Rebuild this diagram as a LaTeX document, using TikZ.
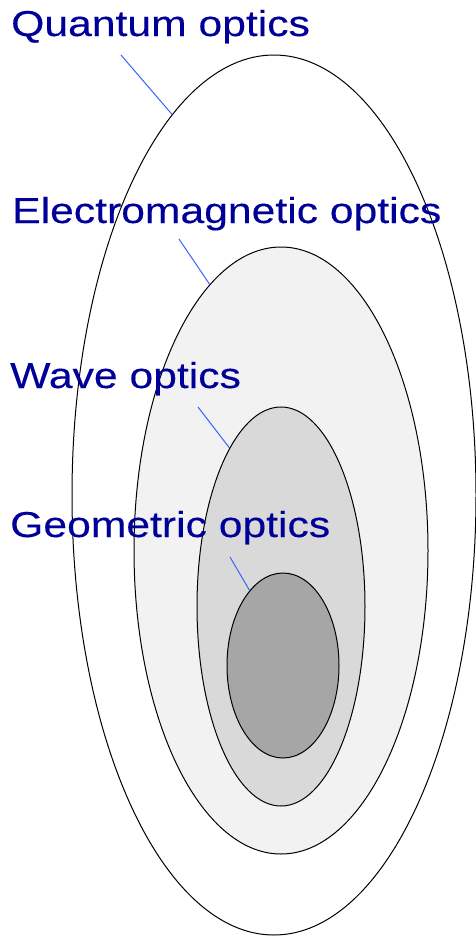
\documentclass[tikz,border=0pt]{standalone}
\usepackage{fontspec}
\newfontfamily\tagfont[FakeStretch=1.185, FakeBold=0.25]{Liberation Sans}
\usetikzlibrary{shapes.geometric}
\usetikzlibrary{positioning}
\definecolor{tagColor}{HTML}{000099}
\definecolor{leadColor}{HTML}{3366FF}
\definecolor{emColor}{HTML}{F2F2F2}
\definecolor{waveColor}{HTML}{D9D9D9}
\definecolor{geoColor}{HTML}{A6A6A6}

\begin{document}
\begin{tikzpicture}[
			x=1pt, y=-1pt,
			zone/.style={ellipse, draw=black, line width=1pt, inner sep=0pt},
			tag/.style={font=\tagfont\fontsize{36}{40}\selectfont, text=tagColor, anchor=base west, inner sep=0pt},
			lead/.style={draw=leadColor, line width=1pt},
			]
			\useasboundingbox (0,0) rectangle (476,937);
			% nested regions
			\node[zone, fill=white, minimum width=404pt, minimum height=880pt] (qo) at (274,495) {};
			\node[zone, fill=emColor, minimum width=294pt, minimum height=607pt] (em) at (281,550.5) {};
			\node[zone, fill=waveColor, minimum width=168pt, minimum height=399pt] (wo) at (281,606.5) {};
			\node[zone, fill=geoColor, minimum width=112pt, minimum height=185pt] (go) at (283,665.5) {};
			% labels
			\node[tag] (qo-lbl) at (11,36) {Quantum optics};
			\node[tag] (em-lbl) at (12,223) {Electromagnetic optics};
			\node[tag] (wo-lbl) at (10,388) {Wave optics};
			\node[tag] (go-lbl) at (10,537) {Geometric optics};
			\coordinate (qo-tip) at (121,55);
			\coordinate (em-tip) at (179,239);
			\coordinate (wo-tip) at (198,407);
			\coordinate (go-tip) at (230,557);
			\draw[lead] (qo-tip) -- (qo.105);
			\draw[lead] (em-tip) -- (em.105.5);
			\draw[lead] (wo-tip) -- (wo.108);
			\draw[lead] (go-tip) -- (go.114);
		\end{tikzpicture}
\end{document}
